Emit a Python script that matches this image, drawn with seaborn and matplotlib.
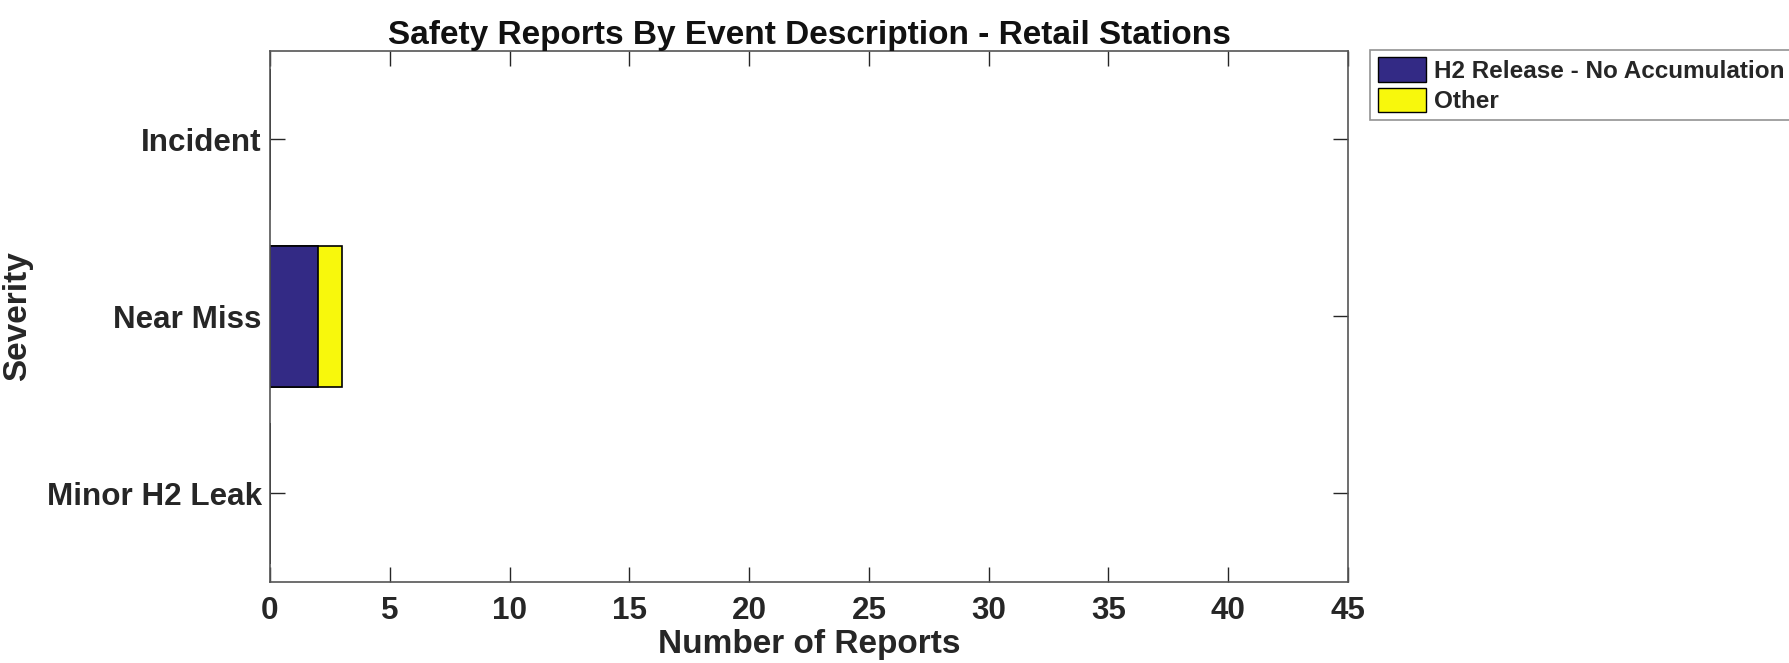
import matplotlib
matplotlib.use("Agg")
import matplotlib.pyplot as plt
import seaborn as sns
import pandas as pd
from matplotlib.patches import Patch

# Data
categories = ["Incident", "Near Miss", "Minor H2 Leak"]
h2_release = [0, 2, 0]
other = [0, 1, 0]
series_names = ["H2 Release - No Accumulation", "Other"]
xticks = [0, 5, 10, 15, 20, 25, 30, 35, 40, 45]

navy = "#332a85"
yellow = "#f8f80c"

sns.set_theme(style="white")
plt.rcParams["font.family"] = ["Liberation Sans", "DejaVu Sans"]
plt.rcParams["font.weight"] = "bold"

fig = plt.figure(figsize=(17.89, 6.63), dpi=100)
ax = fig.add_axes([0.1509, 0.1222, 0.6026, 0.8009])

df = pd.DataFrame({
    "Severity": categories,
    "H2": h2_release,
    "Other": other,
})
df["Total"] = df["H2"] + df["Other"]

# stacked: draw total (yellow) first, then first series (navy) on top
sns.barplot(data=df, y="Severity", x="Total", order=categories, color=yellow,
            orient="h", width=0.8, edgecolor="black", linewidth=1.2, ax=ax,
            saturation=1)
sns.barplot(data=df, y="Severity", x="H2", order=categories, color=navy,
            orient="h", width=0.8, edgecolor="black", linewidth=1.2, ax=ax,
            saturation=1)

ax.set_xlim(0, 45)
ax.set_ylim(2.5, -0.5)
ax.set_xticks(xticks)
ax.set_xticklabels([str(t) for t in xticks])

ax.tick_params(axis="both", which="both", direction="in", length=11, width=1,
               color="#262626", top=True, right=True, bottom=True, left=True,
               labelsize=22.6, labelcolor="#262626")
ax.tick_params(axis="x", pad=10)
ax.tick_params(axis="y", pad=6)
for lab in ax.get_xticklabels() + ax.get_yticklabels():
    lab.set_fontweight("bold")

for s in ax.spines.values():
    s.set_visible(True)
    s.set_color("#555555")
    s.set_linewidth(1.2)

ax.set_xlabel("Number of Reports", fontsize=24, fontweight="bold",
              color="#262626", labelpad=2)
ax.set_ylabel("Severity", fontsize=24, fontweight="bold", color="#262626",
              labelpad=10)
ax.set_title("Safety Reports By Event Description - Retail Stations",
             fontsize=24, fontweight="bold", color="#111111", pad=5)

handles = [Patch(facecolor=navy, edgecolor="black", linewidth=1),
           Patch(facecolor=yellow, edgecolor="black", linewidth=1)]
leg = fig.legend(handles, series_names, loc="upper left",
                 bbox_to_anchor=(0.766, 0.925), frameon=True, fancybox=False,
                 prop={"size": 17.5, "weight": "bold"}, handlelength=2.0,
                 handleheight=1.2, handletextpad=0.3, labelspacing=0.2,
                 borderpad=0.3, borderaxespad=0)
leg.get_frame().set_edgecolor("#777777")
leg.get_frame().set_linewidth(1.2)

fig.savefig("out.png", dpi=100, facecolor="white")
